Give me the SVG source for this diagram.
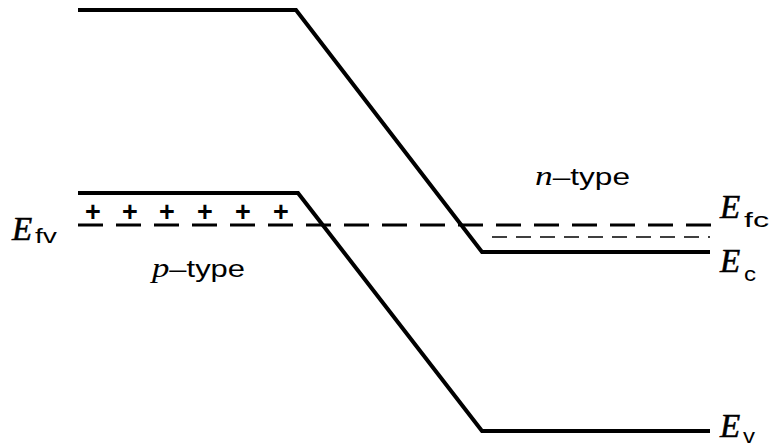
<svg xmlns="http://www.w3.org/2000/svg" width="774" height="448" viewBox="0 0 774 448">
<style>
.band{fill:none;stroke:#000;stroke-width:4;stroke-linejoin:miter}
.dash{fill:none;stroke:#000;stroke-width:2.8}
.dash2{fill:none;stroke:#000;stroke-width:1.4}
.E{font-family:"Liberation Serif",serif;font-style:italic;font-size:33px;fill:#000;stroke:#000;stroke-width:0.6}
.sub{font-family:"Liberation Sans",sans-serif;font-size:21px;fill:#000}
.lbl{font-family:"Liberation Sans",sans-serif;font-size:24px;fill:#000}
.it{font-family:"Liberation Serif",serif;font-style:italic;font-size:27px}
.plus{font-family:"Liberation Sans",sans-serif;font-size:27px;font-weight:bold;fill:#000;text-anchor:middle}
</style>
<g id="conduction-band"><polyline class="band" points="78,10 296,10 482,252 710,252"/></g>
<g id="valence-band"><polyline class="band" points="78,193 298,193 482,431 710,431"/></g>
<g id="fermi-levels">
<line class="dash" x1="78" y1="225" x2="713" y2="225" stroke-dasharray="25 13"/>
<line class="dash2" x1="492" y1="237" x2="710" y2="237" stroke-dasharray="15 9"/>
</g>
<g id="holes">
<text class="plus" x="93" y="221">+</text>
<text class="plus" x="130" y="221">+</text>
<text class="plus" x="167" y="221">+</text>
<text class="plus" x="205" y="221">+</text>
<text class="plus" x="243" y="221">+</text>
<text class="plus" x="281" y="221">+</text>
</g>
<g id="labels">
<text class="E" x="12" y="240">E</text><text class="sub" x="35" y="243" textLength="22" lengthAdjust="spacingAndGlyphs">fv</text>
<text class="E" x="720" y="218">E</text><text class="sub" x="744" y="227" textLength="25" lengthAdjust="spacingAndGlyphs">fc</text>
<text class="E" x="720" y="272">E</text><text class="sub" x="744" y="281" textLength="12" lengthAdjust="spacingAndGlyphs">c</text>
<text class="E" x="720" y="437">E</text><text class="sub" x="743" y="443" textLength="12" lengthAdjust="spacingAndGlyphs">v</text>
<text class="lbl" x="152" y="277" textLength="93" lengthAdjust="spacingAndGlyphs"><tspan class="it">p</tspan>–type</text>
<text class="lbl" x="535" y="185" textLength="95" lengthAdjust="spacingAndGlyphs"><tspan class="it">n</tspan>–type</text>
</g>
</svg>
